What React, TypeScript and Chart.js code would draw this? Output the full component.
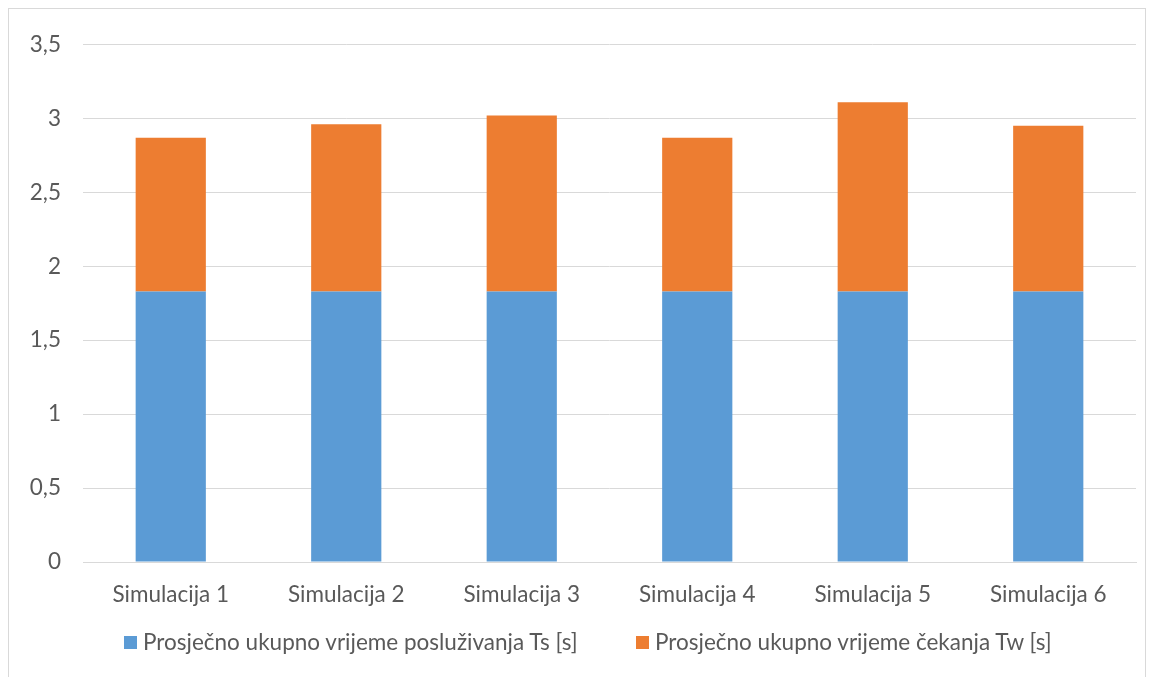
import React, { useEffect, useRef } from "react";
import { Chart, registerables } from "chart.js";

Chart.register(...registerables);

const categories = ["Simulacija 1", "Simulacija 2", "Simulacija 3", "Simulacija 4", "Simulacija 5", "Simulacija 6"];
const serviceTime = [1.83, 1.83, 1.83, 1.83, 1.83, 1.83];
const waitTime = [1.04, 1.13, 1.19, 1.04, 1.28, 1.12];
const seriesNames = ["Prosječno ukupno vrijeme posluživanja Ts [s]", "Prosječno ukupno vrijeme čekanja Tw [s]"];
const seriesColors = ["#5B9BD5", "#ED7D31"];

const FONT = "Lato";
const FONT_SIZE = 22.5;
const TEXT = "#595959";

export default function App() {
  const ref = useRef<HTMLCanvasElement | null>(null);

  useEffect(() => {
    document.body.style.overflow = "hidden";
    const chart = new Chart(ref.current!, {
      type: "bar",
      data: {
        labels: categories,
        datasets: [
          { label: seriesNames[0], data: serviceTime, backgroundColor: seriesColors[0], categoryPercentage: 1, barPercentage: 0.4 },
          { label: seriesNames[1], data: waitTime, backgroundColor: seriesColors[1], categoryPercentage: 1, barPercentage: 0.4 },
        ],
      },
      options: {
        animation: false,
        responsive: false,
        maintainAspectRatio: false,
        layout: { padding: { top: 33, right: 9, left: 0, bottom: 0 } },
        plugins: { legend: { display: false }, tooltip: { enabled: false } },
        scales: {
          x: {
            stacked: true,
            grid: { display: false, drawTicks: false },
            border: { display: true, color: "#d9d9d9" },
            ticks: { color: TEXT, font: { family: FONT, size: FONT_SIZE }, padding: 19 },
            afterFit: (s: any) => { s.height = 115; },
          },
          y: {
            stacked: true,
            min: 0,
            max: 3.5,
            ticks: {
              stepSize: 0.5,
              color: TEXT,
              font: { family: FONT, size: FONT_SIZE },
              padding: 22,
              callback: (v: any) => String(v).replace(".", ","),
            },
            grid: { color: "#d9d9d9", drawTicks: false, lineWidth: 1 },
            border: { display: false },
            afterFit: (s: any) => { s.width = 74; },
          },
        },
      },
    });
    return () => chart.destroy();
  }, []);

  const textStyle: React.CSSProperties = { fontFamily: FONT, fontSize: FONT_SIZE, color: TEXT, whiteSpace: "nowrap", lineHeight: "1" };
  const boxStyle = (c: string): React.CSSProperties => ({ width: 13, height: 13, background: c, marginRight: 6, flex: "none" });

  return (
    <div style={{ position: "relative", width: 1138, height: 669, boxSizing: "border-box", border: "1px solid #d9d9d9", borderBottom: "none", background: "#fff" }}>
      <canvas ref={ref} width={1136} height={668} style={{ position: "absolute", left: 0, top: 0, width: 1136, height: 668 }} />
      <div style={{ position: "absolute", left: 115, top: 623, height: 20, display: "flex", alignItems: "center" }}>
        <div style={boxStyle(seriesColors[0])} />
        <span style={textStyle}>{seriesNames[0]}</span>
      </div>
      <div style={{ position: "absolute", left: 627, top: 623, height: 20, display: "flex", alignItems: "center" }}>
        <div style={boxStyle(seriesColors[1])} />
        <span style={textStyle}>{seriesNames[1]}</span>
      </div>
    </div>
  );
}
